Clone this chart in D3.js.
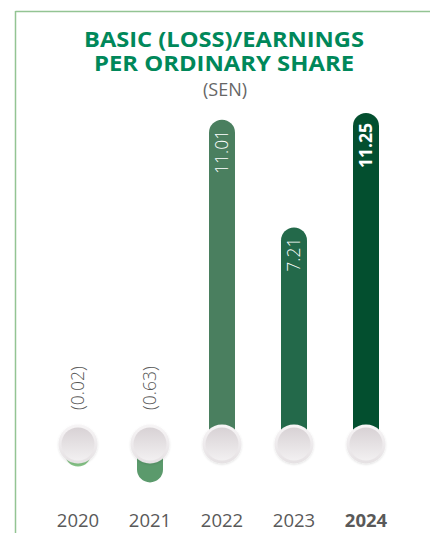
<!DOCTYPE html>
<html>
<head>
<meta charset="utf-8">
<script src="https://cdn.jsdelivr.net/npm/d3@7"></script>
<style>
  html, body { margin: 0; padding: 0; background: #ffffff; }
  svg { display: block; }
</style>
</head>
<body>
<svg id="chart" width="430" height="533"></svg>
<script>
// ---- data ----
const years = ["2020", "2021", "2022", "2023", "2024"];
const values = [-0.02, -0.63, 11.01, 7.21, 11.25];
const barColors = ["#86c487", "#5b9a6c", "#4a7f5f", "#23694a", "#034f2f"];
const titleLines = ["BASIC (LOSS)/EARNINGS", "PER ORDINARY SHARE"];
const titleWidths = [280, 260];
const unitLabel = "(SEN)";

const svg = d3.select("#chart");
const W = 430, H = 533;

// frame lines
svg.append("line").attr("x1", 15.5).attr("x2", W).attr("y1", 11.5).attr("y2", 11.5)
  .attr("stroke", "#93c493").attr("stroke-width", 1.5);
svg.append("line").attr("x1", 15.5).attr("x2", 15.5).attr("y1", 11).attr("y2", H)
  .attr("stroke", "#93c493").attr("stroke-width", 1.5);

// title
titleLines.forEach((t, i) => {
  svg.append("text").attr("x", 224).attr("y", 47 + i * 24)
    .attr("text-anchor", "middle")
    .attr("font-family", "'Open Sans', sans-serif").attr("font-weight", 700)
    .attr("font-size", 20.5).attr("fill", "#00885a")
    .attr("textLength", titleWidths[i]).attr("lengthAdjust", "spacingAndGlyphs")
    .text(t);
});
svg.append("text").attr("x", 225).attr("y", 96).attr("text-anchor", "middle")
  .attr("font-family", "'Open Sans', sans-serif").attr("font-size", 18)
  .attr("fill", "#666666").text(unitLabel);

// scales
const x = d3.scaleBand().domain(years).range([42, 402]).padding(0);
const cx = d => x(d) + x.bandwidth() / 2;
const baseY = 444;           // centre of the knobs
const y = d3.scaleLinear().domain([0, 11.25]).range([432, 113]);
const yNeg = d3.scaleLinear().domain([0, 1]).range([466, 492]);
const barW = 26;

const data = years.map((yr, i) => ({ year: yr, value: values[i], color: barColors[i] }));

// defs
const defs = svg.append("defs");
const g1 = defs.append("linearGradient").attr("id", "knob").attr("x1", 0).attr("y1", 0).attr("x2", 0).attr("y2", 1);
g1.append("stop").attr("offset", "0%").attr("stop-color", "#d8d2d5");
g1.append("stop").attr("offset", "100%").attr("stop-color", "#f2f0f1");
const g2 = defs.append("linearGradient").attr("id", "rim").attr("x1", 0).attr("y1", 0).attr("x2", 0).attr("y2", 1);
g2.append("stop").attr("offset", "0%").attr("stop-color", "#f7f5f6");
g2.append("stop").attr("offset", "100%").attr("stop-color", "#e5e1e3");
const sh = defs.append("filter").attr("id", "shadow").attr("x", "-30%").attr("y", "-30%").attr("width", "160%").attr("height", "160%");
sh.append("feDropShadow").attr("dx", 0).attr("dy", 1).attr("stdDeviation", 1.2)
  .attr("flood-color", "#000").attr("flood-opacity", 0.13);

// bars
const bars = svg.append("g");
data.forEach(d => {
  if (d.value >= 0) {
    const top = y(d.value);
    bars.append("rect").attr("x", cx(d.year) - barW / 2).attr("y", top)
      .attr("width", barW).attr("height", baseY - top)
      .attr("rx", barW / 2).attr("fill", d.color);
  } else {
    const bot = yNeg(-d.value);
    bars.append("rect").attr("x", cx(d.year) - barW / 2).attr("y", baseY - 10)
      .attr("width", barW).attr("height", bot - (baseY - 10))
      .attr("rx", barW / 2).attr("fill", d.color);
  }
});

// knobs
const knobs = svg.append("g");
data.forEach(d => {
  knobs.append("circle").attr("cx", cx(d.year)).attr("cy", baseY).attr("r", 19.5)
    .attr("fill", "url(#rim)").attr("filter", "url(#shadow)");
  knobs.append("circle").attr("cx", cx(d.year)).attr("cy", baseY).attr("r", 16.5)
    .attr("fill", "url(#knob)");
});

// value labels
const fmt = v => v < 0 ? "(" + d3.format(".2f")(-v) + ")" : d3.format(".2f")(v);
const labels = svg.append("g").attr("font-family", "'Open Sans', sans-serif").attr("font-size", 17.5);
data.forEach((d, i) => {
  const last = i === data.length - 1;
  if (d.value >= 0) {
    labels.append("text")
      .attr("transform", `translate(${cx(d.year)},${y(d.value) + 10}) rotate(-90)`)
      .attr("text-anchor", "end").attr("dy", "0.36em")
      .attr("fill", "#ffffff").attr("font-weight", last ? 700 : 300)
      .text(fmt(d.value));
  } else {
    labels.append("text")
      .attr("transform", `translate(${cx(d.year)},${baseY - 34}) rotate(-90)`)
      .attr("text-anchor", "start").attr("dy", "0.36em")
      .attr("fill", "#555555").attr("font-weight", 300)
      .text(fmt(d.value));
  }
});

// year axis labels
const axis = d3.axisBottom(x).tickSize(0).tickPadding(0);
const ax = svg.append("g").attr("transform", "translate(0,527)").call(axis);
ax.select(".domain").remove();
ax.selectAll("text")
  .attr("dy", 0)
  .attr("font-family", "'Open Sans', sans-serif").attr("font-size", 18.5)
  .attr("fill", "#595959")
  .attr("font-weight", (d, i) => i === years.length - 1 ? 700 : 400);
</script>
</body>
</html>
